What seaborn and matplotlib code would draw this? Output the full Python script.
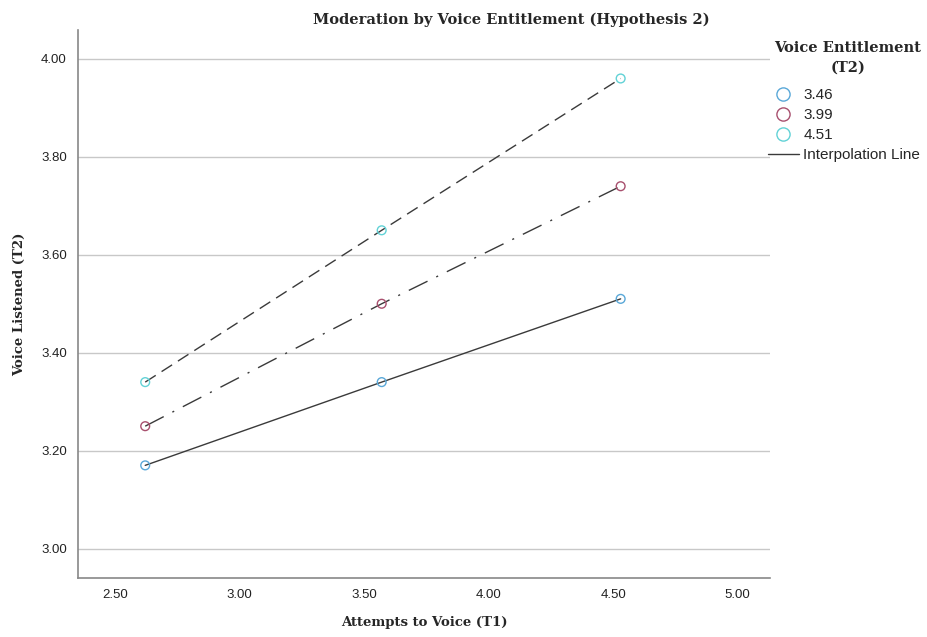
import matplotlib
matplotlib.use("Agg")
import matplotlib.pyplot as plt
import seaborn as sns
import pandas as pd
from matplotlib.lines import Line2D

# Data
attempts = [2.62, 3.57, 4.53]
groups = ["3.46", "3.99", "4.51"]
vals_346 = [3.17, 3.34, 3.51]
vals_399 = [3.25, 3.50, 3.74]
vals_451 = [3.34, 3.65, 3.96]
colors = ["#5aa8d8", "#a8506e", "#62d2d6"]
xticks = [2.50, 3.00, 3.50, 4.00, 4.50, 5.00]
yticks = [3.00, 3.20, 3.40, 3.60, 3.80, 4.00]

df = pd.DataFrame({
    "x": attempts * 3,
    "y": vals_346 + vals_399 + vals_451,
    "g": [groups[0]] * 3 + [groups[1]] * 3 + [groups[2]] * 3,
})

sns.set_style("white")
fig = plt.figure(figsize=(9.28, 6.37), dpi=100)
ax = fig.add_axes([78 / 928, 1 - 578 / 637, (770 - 78) / 928, (578 - 30) / 637])

for yt in yticks:
    ax.axhline(yt, color="#c8c8c8", lw=1.0, zorder=0)

sns.lineplot(data=df, x="x", y="y", style="g", color="#3a3a3a", lw=1.0,
             dashes={"3.46": "", "3.99": (15, 7, 1.5, 7), "4.51": (9, 5)},
             legend=False, ax=ax, zorder=2)
sns.scatterplot(data=df, x="x", y="y", hue="g", palette=dict(zip(groups, colors)),
                s=40, linewidth=1.0, legend=False, ax=ax, zorder=3)
pts = ax.collections[-1]
pts.set_edgecolors(pts.get_facecolors())
pts.set_facecolors("none")

ax.set_xlim(2.35, 5.13)
ax.set_ylim(2.94, 4.059)
ax.set_xticks(xticks)
ax.set_xticklabels([f"{v:.2f}" for v in xticks])
ax.set_yticks(yticks)
ax.set_yticklabels([f"{v:.2f}" for v in yticks])
ax.tick_params(length=0, labelsize=9.5, colors="#222222")
ax.tick_params(axis="x", pad=8)
ax.tick_params(axis="y", pad=8)
for lab in ax.get_xticklabels() + ax.get_yticklabels():
    lab.set_family(["Liberation Sans", "DejaVu Sans"])

for s in ["top", "right"]:
    ax.spines[s].set_visible(False)
for s in ["left", "bottom"]:
    ax.spines[s].set_color("#888888")
    ax.spines[s].set_linewidth(1.2)

serif = ["DejaVu Serif"]
ax.set_xlabel("Attempts to Voice (T1)", fontsize=9.5, fontweight="bold", family=serif, labelpad=11)
ax.set_ylabel("Voice Listened (T2)", fontsize=9.5, fontweight="bold", family=serif, labelpad=11)
fig.text(511 / 928, 1 - 20 / 637, "Moderation by Voice Entitlement (Hypothesis 2)",
         ha="center", va="center", fontsize=10.5, fontweight="bold", family=serif)

# legend title
fig.text(848 / 928, 1 - 48 / 637, "Voice Entitlement", ha="center", va="center",
         fontsize=10.5, fontweight="bold", family=serif)
fig.text(848 / 928, 1 - 68 / 637, "(T2)", ha="center", va="center",
         fontsize=10.5, fontweight="bold", family=serif)

handles = [Line2D([], [], marker="o", ls="none", mfc="none", mec=c, ms=9.5, mew=1.0) for c in colors]
handles.append(Line2D([], [], color="#3a3a3a", lw=1.0))
labels = groups + ["Interpolation Line"]
leg = fig.legend(handles, labels, loc="upper left", bbox_to_anchor=(768 / 928, 1 - 88 / 637),
                 frameon=False, handlelength=2.0,
                 handletextpad=0.3, labelspacing=0.4, borderaxespad=0, borderpad=0,
                 prop={"family": ["Liberation Sans", "DejaVu Sans"], "size": 11})

fig.savefig("out.png", dpi=100)
